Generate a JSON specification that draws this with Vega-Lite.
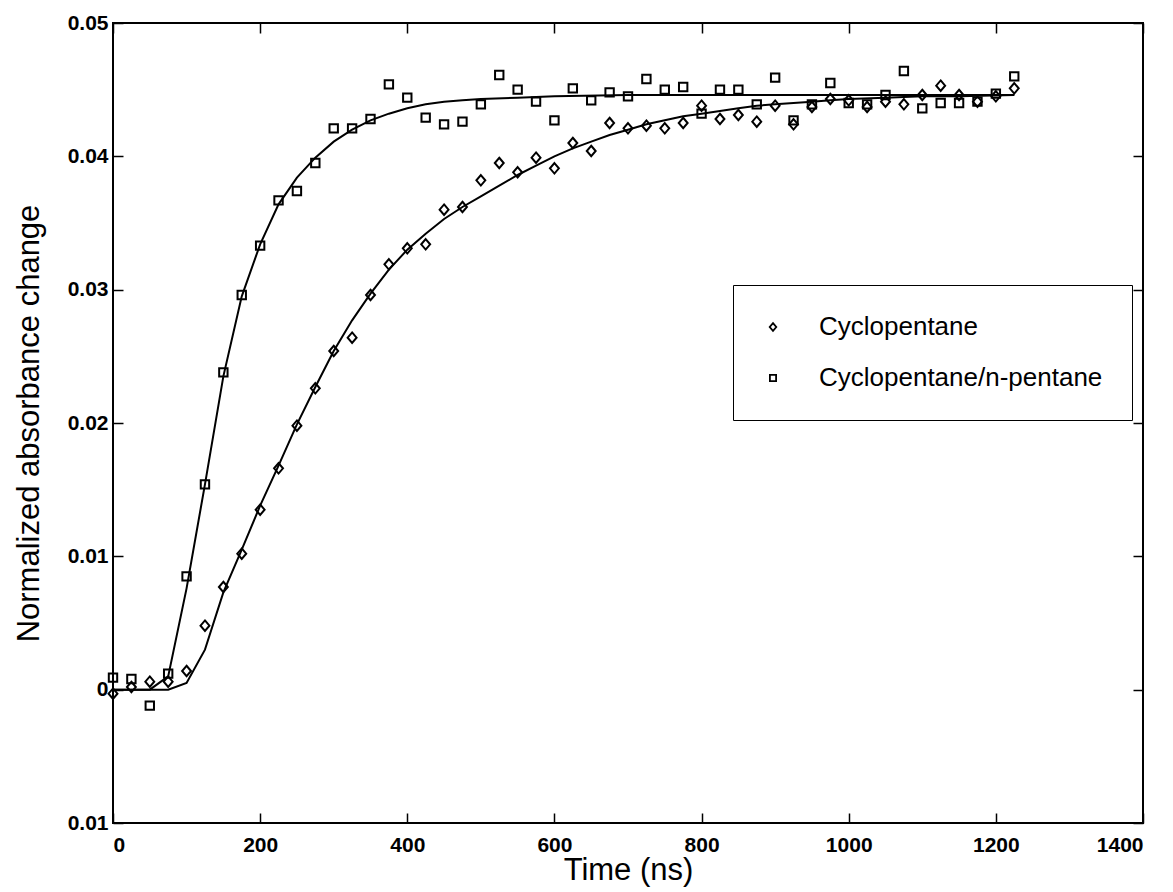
{
  "$schema": "https://vega.github.io/schema/vega-lite/v6.json",
  "width": 1030,
  "height": 800,
  "autosize": {"type": "none"},
  "padding": {"left": 113, "top": 23, "right": 30, "bottom": 69},
  "background": "white",
  "config": {
    "view": {"stroke": "black", "strokeWidth": 2},
    "font": "Liberation Sans",
    "axis": {
      "domain": false,
      "grid": false,
      "ticks": true,
      "tickColor": "black",
      "tickSize": -10,
      "tickWidth": 1.5,
      "labelColor": "black",
      "labelFont": "Liberation Sans",
      "labelFontSize": 21,
      "labelFontWeight": "bold",
      "titleFont": "Liberation Sans",
      "titleFontSize": 31,
      "titleFontWeight": "normal",
      "titleColor": "black"
    }
  },
  "datasets": {
    "fits": [
      {"time": 0, "absorbance": 0, "series": "Cyclopentane"},
      {"time": 25, "absorbance": 0, "series": "Cyclopentane"},
      {"time": 50, "absorbance": 0, "series": "Cyclopentane"},
      {"time": 75, "absorbance": 0, "series": "Cyclopentane"},
      {"time": 100, "absorbance": 0.0005, "series": "Cyclopentane"},
      {"time": 125, "absorbance": 0.0030, "series": "Cyclopentane"},
      {"time": 150, "absorbance": 0.0073, "series": "Cyclopentane"},
      {"time": 175, "absorbance": 0.0105, "series": "Cyclopentane"},
      {"time": 200, "absorbance": 0.0138, "series": "Cyclopentane"},
      {"time": 225, "absorbance": 0.0168, "series": "Cyclopentane"},
      {"time": 250, "absorbance": 0.0199, "series": "Cyclopentane"},
      {"time": 275, "absorbance": 0.0227, "series": "Cyclopentane"},
      {"time": 300, "absorbance": 0.0254, "series": "Cyclopentane"},
      {"time": 325, "absorbance": 0.0277, "series": "Cyclopentane"},
      {"time": 350, "absorbance": 0.0297, "series": "Cyclopentane"},
      {"time": 375, "absorbance": 0.0315, "series": "Cyclopentane"},
      {"time": 400, "absorbance": 0.0330, "series": "Cyclopentane"},
      {"time": 425, "absorbance": 0.0342, "series": "Cyclopentane"},
      {"time": 450, "absorbance": 0.0353, "series": "Cyclopentane"},
      {"time": 475, "absorbance": 0.0362, "series": "Cyclopentane"},
      {"time": 500, "absorbance": 0.0370, "series": "Cyclopentane"},
      {"time": 525, "absorbance": 0.0378, "series": "Cyclopentane"},
      {"time": 550, "absorbance": 0.0386, "series": "Cyclopentane"},
      {"time": 575, "absorbance": 0.0393, "series": "Cyclopentane"},
      {"time": 600, "absorbance": 0.0400, "series": "Cyclopentane"},
      {"time": 625, "absorbance": 0.0406, "series": "Cyclopentane"},
      {"time": 650, "absorbance": 0.0411, "series": "Cyclopentane"},
      {"time": 675, "absorbance": 0.0416, "series": "Cyclopentane"},
      {"time": 700, "absorbance": 0.0420, "series": "Cyclopentane"},
      {"time": 725, "absorbance": 0.0424, "series": "Cyclopentane"},
      {"time": 750, "absorbance": 0.0427, "series": "Cyclopentane"},
      {"time": 775, "absorbance": 0.0430, "series": "Cyclopentane"},
      {"time": 800, "absorbance": 0.0432, "series": "Cyclopentane"},
      {"time": 825, "absorbance": 0.0434, "series": "Cyclopentane"},
      {"time": 850, "absorbance": 0.0436, "series": "Cyclopentane"},
      {"time": 875, "absorbance": 0.0438, "series": "Cyclopentane"},
      {"time": 900, "absorbance": 0.0439, "series": "Cyclopentane"},
      {"time": 925, "absorbance": 0.0440, "series": "Cyclopentane"},
      {"time": 950, "absorbance": 0.0441, "series": "Cyclopentane"},
      {"time": 975, "absorbance": 0.0442, "series": "Cyclopentane"},
      {"time": 1000, "absorbance": 0.0443, "series": "Cyclopentane"},
      {"time": 1050, "absorbance": 0.0444, "series": "Cyclopentane"},
      {"time": 1100, "absorbance": 0.0445, "series": "Cyclopentane"},
      {"time": 1150, "absorbance": 0.0445, "series": "Cyclopentane"},
      {"time": 1225, "absorbance": 0.0446, "series": "Cyclopentane"},
      {"time": 0, "absorbance": 0, "series": "Cyclopentane/n-pentane"},
      {"time": 25, "absorbance": 0, "series": "Cyclopentane/n-pentane"},
      {"time": 50, "absorbance": 0, "series": "Cyclopentane/n-pentane"},
      {"time": 75, "absorbance": 0.0010, "series": "Cyclopentane/n-pentane"},
      {"time": 100, "absorbance": 0.0076, "series": "Cyclopentane/n-pentane"},
      {"time": 125, "absorbance": 0.0154, "series": "Cyclopentane/n-pentane"},
      {"time": 150, "absorbance": 0.0235, "series": "Cyclopentane/n-pentane"},
      {"time": 175, "absorbance": 0.0295, "series": "Cyclopentane/n-pentane"},
      {"time": 200, "absorbance": 0.0334, "series": "Cyclopentane/n-pentane"},
      {"time": 225, "absorbance": 0.0364, "series": "Cyclopentane/n-pentane"},
      {"time": 250, "absorbance": 0.0384, "series": "Cyclopentane/n-pentane"},
      {"time": 275, "absorbance": 0.0399, "series": "Cyclopentane/n-pentane"},
      {"time": 300, "absorbance": 0.0411, "series": "Cyclopentane/n-pentane"},
      {"time": 325, "absorbance": 0.0420, "series": "Cyclopentane/n-pentane"},
      {"time": 350, "absorbance": 0.0427, "series": "Cyclopentane/n-pentane"},
      {"time": 375, "absorbance": 0.0432, "series": "Cyclopentane/n-pentane"},
      {"time": 400, "absorbance": 0.0436, "series": "Cyclopentane/n-pentane"},
      {"time": 425, "absorbance": 0.0439, "series": "Cyclopentane/n-pentane"},
      {"time": 450, "absorbance": 0.0441, "series": "Cyclopentane/n-pentane"},
      {"time": 475, "absorbance": 0.0442, "series": "Cyclopentane/n-pentane"},
      {"time": 500, "absorbance": 0.0443, "series": "Cyclopentane/n-pentane"},
      {"time": 550, "absorbance": 0.0444, "series": "Cyclopentane/n-pentane"},
      {"time": 600, "absorbance": 0.0445, "series": "Cyclopentane/n-pentane"},
      {"time": 700, "absorbance": 0.0446, "series": "Cyclopentane/n-pentane"},
      {"time": 900, "absorbance": 0.0446, "series": "Cyclopentane/n-pentane"},
      {"time": 1100, "absorbance": 0.0446, "series": "Cyclopentane/n-pentane"},
      {"time": 1225, "absorbance": 0.0446, "series": "Cyclopentane/n-pentane"}
    ],
    "points": [
      {"time": 0, "absorbance": -0.0003, "series": "Cyclopentane"},
      {"time": 25, "absorbance": 0.0002, "series": "Cyclopentane"},
      {"time": 50, "absorbance": 0.0006, "series": "Cyclopentane"},
      {"time": 75, "absorbance": 0.0006, "series": "Cyclopentane"},
      {"time": 100, "absorbance": 0.0014, "series": "Cyclopentane"},
      {"time": 125, "absorbance": 0.0048, "series": "Cyclopentane"},
      {"time": 150, "absorbance": 0.0077, "series": "Cyclopentane"},
      {"time": 175, "absorbance": 0.0102, "series": "Cyclopentane"},
      {"time": 200, "absorbance": 0.0135, "series": "Cyclopentane"},
      {"time": 225, "absorbance": 0.0166, "series": "Cyclopentane"},
      {"time": 250, "absorbance": 0.0198, "series": "Cyclopentane"},
      {"time": 275, "absorbance": 0.0226, "series": "Cyclopentane"},
      {"time": 300, "absorbance": 0.0254, "series": "Cyclopentane"},
      {"time": 325, "absorbance": 0.0264, "series": "Cyclopentane"},
      {"time": 350, "absorbance": 0.0296, "series": "Cyclopentane"},
      {"time": 375, "absorbance": 0.0319, "series": "Cyclopentane"},
      {"time": 400, "absorbance": 0.0331, "series": "Cyclopentane"},
      {"time": 425, "absorbance": 0.0334, "series": "Cyclopentane"},
      {"time": 450, "absorbance": 0.0360, "series": "Cyclopentane"},
      {"time": 475, "absorbance": 0.0362, "series": "Cyclopentane"},
      {"time": 500, "absorbance": 0.0382, "series": "Cyclopentane"},
      {"time": 525, "absorbance": 0.0395, "series": "Cyclopentane"},
      {"time": 550, "absorbance": 0.0388, "series": "Cyclopentane"},
      {"time": 575, "absorbance": 0.0399, "series": "Cyclopentane"},
      {"time": 600, "absorbance": 0.0391, "series": "Cyclopentane"},
      {"time": 625, "absorbance": 0.0410, "series": "Cyclopentane"},
      {"time": 650, "absorbance": 0.0404, "series": "Cyclopentane"},
      {"time": 675, "absorbance": 0.0425, "series": "Cyclopentane"},
      {"time": 700, "absorbance": 0.0421, "series": "Cyclopentane"},
      {"time": 725, "absorbance": 0.0423, "series": "Cyclopentane"},
      {"time": 750, "absorbance": 0.0421, "series": "Cyclopentane"},
      {"time": 775, "absorbance": 0.0425, "series": "Cyclopentane"},
      {"time": 800, "absorbance": 0.0438, "series": "Cyclopentane"},
      {"time": 825, "absorbance": 0.0428, "series": "Cyclopentane"},
      {"time": 850, "absorbance": 0.0431, "series": "Cyclopentane"},
      {"time": 875, "absorbance": 0.0426, "series": "Cyclopentane"},
      {"time": 900, "absorbance": 0.0438, "series": "Cyclopentane"},
      {"time": 925, "absorbance": 0.0424, "series": "Cyclopentane"},
      {"time": 950, "absorbance": 0.0437, "series": "Cyclopentane"},
      {"time": 975, "absorbance": 0.0443, "series": "Cyclopentane"},
      {"time": 1000, "absorbance": 0.0442, "series": "Cyclopentane"},
      {"time": 1025, "absorbance": 0.0437, "series": "Cyclopentane"},
      {"time": 1050, "absorbance": 0.0441, "series": "Cyclopentane"},
      {"time": 1075, "absorbance": 0.0439, "series": "Cyclopentane"},
      {"time": 1100, "absorbance": 0.0446, "series": "Cyclopentane"},
      {"time": 1125, "absorbance": 0.0453, "series": "Cyclopentane"},
      {"time": 1150, "absorbance": 0.0446, "series": "Cyclopentane"},
      {"time": 1175, "absorbance": 0.0441, "series": "Cyclopentane"},
      {"time": 1200, "absorbance": 0.0445, "series": "Cyclopentane"},
      {"time": 1225, "absorbance": 0.0451, "series": "Cyclopentane"},
      {"time": 0, "absorbance": 0.0009, "series": "Cyclopentane/n-pentane"},
      {"time": 25, "absorbance": 0.0008, "series": "Cyclopentane/n-pentane"},
      {"time": 50, "absorbance": -0.0012, "series": "Cyclopentane/n-pentane"},
      {"time": 75, "absorbance": 0.0012, "series": "Cyclopentane/n-pentane"},
      {"time": 100, "absorbance": 0.0085, "series": "Cyclopentane/n-pentane"},
      {"time": 125, "absorbance": 0.0154, "series": "Cyclopentane/n-pentane"},
      {"time": 150, "absorbance": 0.0238, "series": "Cyclopentane/n-pentane"},
      {"time": 175, "absorbance": 0.0296, "series": "Cyclopentane/n-pentane"},
      {"time": 200, "absorbance": 0.0333, "series": "Cyclopentane/n-pentane"},
      {"time": 225, "absorbance": 0.0367, "series": "Cyclopentane/n-pentane"},
      {"time": 250, "absorbance": 0.0374, "series": "Cyclopentane/n-pentane"},
      {"time": 275, "absorbance": 0.0395, "series": "Cyclopentane/n-pentane"},
      {"time": 300, "absorbance": 0.0421, "series": "Cyclopentane/n-pentane"},
      {"time": 325, "absorbance": 0.0421, "series": "Cyclopentane/n-pentane"},
      {"time": 350, "absorbance": 0.0428, "series": "Cyclopentane/n-pentane"},
      {"time": 375, "absorbance": 0.0454, "series": "Cyclopentane/n-pentane"},
      {"time": 400, "absorbance": 0.0444, "series": "Cyclopentane/n-pentane"},
      {"time": 425, "absorbance": 0.0429, "series": "Cyclopentane/n-pentane"},
      {"time": 450, "absorbance": 0.0424, "series": "Cyclopentane/n-pentane"},
      {"time": 475, "absorbance": 0.0426, "series": "Cyclopentane/n-pentane"},
      {"time": 500, "absorbance": 0.0439, "series": "Cyclopentane/n-pentane"},
      {"time": 525, "absorbance": 0.0461, "series": "Cyclopentane/n-pentane"},
      {"time": 550, "absorbance": 0.0450, "series": "Cyclopentane/n-pentane"},
      {"time": 575, "absorbance": 0.0441, "series": "Cyclopentane/n-pentane"},
      {"time": 600, "absorbance": 0.0427, "series": "Cyclopentane/n-pentane"},
      {"time": 625, "absorbance": 0.0451, "series": "Cyclopentane/n-pentane"},
      {"time": 650, "absorbance": 0.0442, "series": "Cyclopentane/n-pentane"},
      {"time": 675, "absorbance": 0.0448, "series": "Cyclopentane/n-pentane"},
      {"time": 700, "absorbance": 0.0445, "series": "Cyclopentane/n-pentane"},
      {"time": 725, "absorbance": 0.0458, "series": "Cyclopentane/n-pentane"},
      {"time": 750, "absorbance": 0.0450, "series": "Cyclopentane/n-pentane"},
      {"time": 775, "absorbance": 0.0452, "series": "Cyclopentane/n-pentane"},
      {"time": 800, "absorbance": 0.0432, "series": "Cyclopentane/n-pentane"},
      {"time": 825, "absorbance": 0.0450, "series": "Cyclopentane/n-pentane"},
      {"time": 850, "absorbance": 0.0450, "series": "Cyclopentane/n-pentane"},
      {"time": 875, "absorbance": 0.0439, "series": "Cyclopentane/n-pentane"},
      {"time": 900, "absorbance": 0.0459, "series": "Cyclopentane/n-pentane"},
      {"time": 925, "absorbance": 0.0427, "series": "Cyclopentane/n-pentane"},
      {"time": 950, "absorbance": 0.0439, "series": "Cyclopentane/n-pentane"},
      {"time": 975, "absorbance": 0.0455, "series": "Cyclopentane/n-pentane"},
      {"time": 1000, "absorbance": 0.0440, "series": "Cyclopentane/n-pentane"},
      {"time": 1025, "absorbance": 0.0439, "series": "Cyclopentane/n-pentane"},
      {"time": 1050, "absorbance": 0.0446, "series": "Cyclopentane/n-pentane"},
      {"time": 1075, "absorbance": 0.0464, "series": "Cyclopentane/n-pentane"},
      {"time": 1100, "absorbance": 0.0436, "series": "Cyclopentane/n-pentane"},
      {"time": 1125, "absorbance": 0.0440, "series": "Cyclopentane/n-pentane"},
      {"time": 1150, "absorbance": 0.0440, "series": "Cyclopentane/n-pentane"},
      {"time": 1175, "absorbance": 0.0441, "series": "Cyclopentane/n-pentane"},
      {"time": 1200, "absorbance": 0.0447, "series": "Cyclopentane/n-pentane"},
      {"time": 1225, "absorbance": 0.0460, "series": "Cyclopentane/n-pentane"}
    ]
  },
  "layer": [
    {
      "data": {"name": "fits"},
      "mark": {"type": "line", "color": "black", "strokeWidth": 2},
      "encoding": {
        "x": {
          "field": "time", "type": "quantitative",
          "scale": {"domain": [0, 1400], "nice": false, "zero": false},
          "axis": {"orient": "bottom", "values": [0, 200, 400, 600, 800, 1000, 1200, 1400], "format": "d", "title": "Time (ns)", "labelPadding": 21, "titlePadding": 0}
        },
        "y": {
          "field": "absorbance", "type": "quantitative",
          "scale": {"domain": [-0.01, 0.05], "nice": false, "zero": false},
          "axis": {"orient": "left", "values": [-0.01, 0, 0.01, 0.02, 0.03, 0.04, 0.05], "labelExpr": "datum.value == 0 ? '0' : format(abs(datum.value), '.2f')", "title": "Normalized absorbance change", "labelPadding": 15, "titlePadding": 22}
        },
        "detail": {"field": "series", "type": "nominal"}
      }
    },
    {
      "data": {"name": "points"},
      "mark": {"type": "point", "filled": false, "color": "black", "opacity": 1, "strokeWidth": 2, "size": 110},
      "encoding": {
        "x": {
          "field": "time", "type": "quantitative",
          "axis": {"orient": "top", "values": [0, 200, 400, 600, 800, 1000, 1200, 1400], "labels": false, "title": null}
        },
        "y": {
          "field": "absorbance", "type": "quantitative",
          "axis": {"orient": "right", "values": [-0.01, 0, 0.01, 0.02, 0.03, 0.04, 0.05], "labels": false, "title": null}
        },
        "shape": {
          "field": "series", "type": "nominal",
          "scale": {"domain": ["Cyclopentane", "Cyclopentane/n-pentane"], "range": ["M0,-1L0.85,0L0,1L-0.85,0Z", "M-0.8,-0.8L0.8,-0.8L0.8,0.8L-0.8,0.8Z"]},
          "legend": {
            "orient": "none", "legendX": 620, "legendY": 262, "title": null,
            "padding": 29, "strokeColor": "black", "fillColor": "white", "cornerRadius": 0,
            "labelFont": "Liberation Sans", "labelFontSize": 26, "labelFontWeight": "normal", "labelColor": "black", "labelLimit": 500,
            "symbolSize": 60, "symbolStrokeWidth": 1.8, "symbolStrokeColor": "black", "symbolOpacity": 1,
            "symbolOffset": -2, "labelOffset": 33, "rowPadding": 25
          }
        }
      }
    }
  ],
  "resolve": {"axis": {"x": "independent", "y": "independent"}}
}
